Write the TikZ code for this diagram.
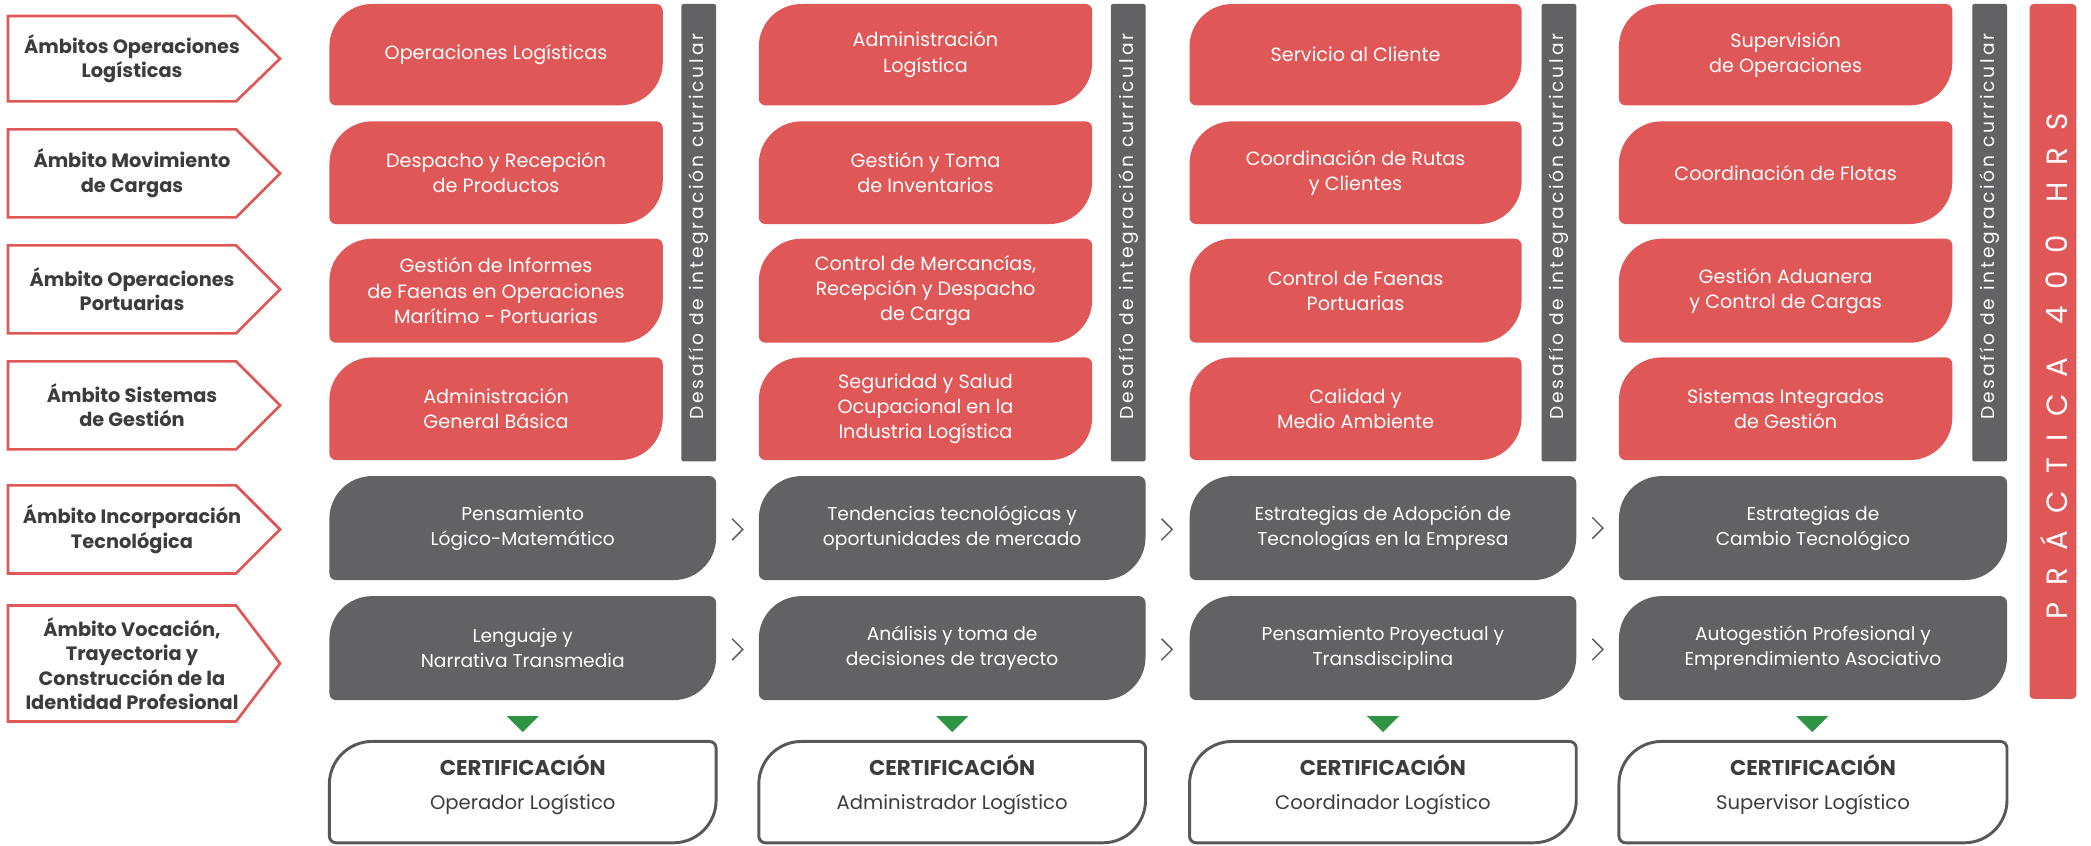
\documentclass[tikz,border=0pt]{standalone}
\usepackage{fontspec}
\setmainfont{Poppins}
\newfontfamily\desfont[LetterSpace=15]{Poppins}
\newfontfamily\pracfont[LetterSpace=58]{Poppins}
\usetikzlibrary{calc}
\definecolor{rojo}{HTML}{E05757}
\definecolor{gris}{HTML}{626264}
\definecolor{verde}{HTML}{2E9545}
\definecolor{txtgris}{HTML}{3C3C3C}
\definecolor{borde}{HTML}{58585A}
\newcommand\cellbox[7]{%
  \path[#1] (#2,{(#3+#5)/2}) [rounded corners=32pt] -- (#2,#3) [rounded corners=5pt] -- (#4,#3) [rounded corners=32pt] -- (#4,#5) [rounded corners=5pt] -- (#2,#5) -- cycle;
  \node[#1 text] (#6) at ({(#2+#4)/2},{(#3+#5)/2}) {#7};
}
\newcommand\certbox[6]{%
  \path[certshape] (#1,{(#2+#3)/2}) [rounded corners=32pt] -- (#1,#2) [rounded corners=5pt] -- (#4,#2) [rounded corners=32pt] -- (#4,#3) [rounded corners=5pt] -- (#1,#3) -- cycle;
  \node[certtitle] (#5t) at ({(#1+#4)/2},574) {CERTIFICACIÓN};
  \node[certsub] (#5) at ({(#1+#4)/2},603) {#6};
}
\newcommand\lblbox[4]{%
  \path[lblshape] (6,#1) -- (177,#1) -- (210,{(#1+#2)/2}) -- (177,#2) -- (6,#2) -- cycle;
  \node[lbltext] (#3) at (99,{(#1+#2)/2}) {#4};
}
\newcommand\chev[2]{%
  \coordinate (#1) at #2;
  \draw[chevline] ([shift={(-4,-8)}]#1) -- ([shift={(4,0)}]#1) -- ([shift={(-4,8)}]#1);
}
\newcommand\tri[2]{%
  \coordinate (#1) at (#2,543);
  \fill[verde] ([shift={(-12,-6)}]#1) -- ([shift={(12,-6)}]#1) -- ([shift={(0,6)}]#1) -- cycle;
}
\begin{document}
\begin{tikzpicture}[x=1pt,y=-1pt,
  redshape/.style={fill=rojo},
  redshape text/.style={text=white, align=center, font=\fontsize{14.4}{19}\selectfont},
  grayshape/.style={fill=gris},
  grayshape text/.style={text=white, align=center, font=\fontsize{14}{19}\selectfont},
  certshape/.style={fill=white, draw=borde, line width=2.2pt},
  certtitle/.style={text=txtgris, font=\fontsize{16}{19}\selectfont\bfseries},
  certsub/.style={text=txtgris, font=\fontsize{14.7}{19}\selectfont},
  lblshape/.style={fill=white, draw=rojo, line width=2pt},
  lbltext/.style={text=txtgris, align=center, font=\fontsize{14.5}{18.3}\selectfont\bfseries},
  chevline/.style={draw=gris, line width=1.1pt},
  vbar/.style={fill=gris},
  vtext/.style={text=white, rotate=90, font=\desfont\fontsize{14}{18}\selectfont},
  practext/.style={text=white, rotate=90, font=\pracfont\fontsize{22}{26}\selectfont}
]
\useasboundingbox (0,0) rectangle (1568,634);

% left labels
\lblbox{12}{76}{L1}{Ámbitos Operaciones\\Logísticas}
\lblbox{97}{163}{L2}{Ámbito Movimiento\\de Cargas}
\lblbox{184}{250}{L3}{Ámbito Operaciones\\Portuarias}
\lblbox{271}{337}{L4}{Ámbito Sistemas\\de Gestión}
\lblbox{364}{430}{L5}{Ámbito Incorporación\\Tecnológica}
\lblbox{454}{541}{L6}{Ámbito Vocación,\\Trayectoria y\\Construcción de la\\Identidad Profesional}

% column 1
\cellbox{redshape}{247}{3}{497}{79}{a1}{Operaciones Logísticas}
\cellbox{redshape}{247}{91}{497}{168}{a2}{Despacho y Recepción\\de Productos}
\cellbox{redshape}{247}{179}{497}{257}{a3}{Gestión de Informes\\de Faenas en Operaciones\\Marítimo - Portuarias}
\cellbox{redshape}{247}{268}{497}{345}{a4}{Administración\\General Básica}
\cellbox{grayshape}{247}{357}{537}{435}{a5}{Pensamiento\\Lógico-Matemático}
\cellbox{grayshape}{247}{447}{537}{525}{a6}{Lenguaje y\\Narrativa Transmedia}
% column 2
\cellbox{redshape}{569}{3}{819}{79}{b1}{Administración\\Logística}
\cellbox{redshape}{569}{91}{819}{168}{b2}{Gestión y Toma\\de Inventarios}
\cellbox{redshape}{569}{179}{819}{257}{b3}{Control de Mercancías,\\Recepción y Despacho\\de Carga}
\cellbox{redshape}{569}{268}{819}{345}{b4}{Seguridad y Salud\\Ocupacional en la\\Industria Logística}
\cellbox{grayshape}{569}{357}{859}{435}{b5}{Tendencias tecnológicas y\\oportunidades de mercado}
\cellbox{grayshape}{569}{447}{859}{525}{b6}{Análisis y toma de\\decisiones de trayecto}
% column 3
\cellbox{redshape}{892}{3}{1141}{79}{c1}{Servicio al Cliente}
\cellbox{redshape}{892}{91}{1141}{168}{c2}{Coordinación de Rutas\\y Clientes}
\cellbox{redshape}{892}{179}{1141}{257}{c3}{Control de Faenas\\Portuarias}
\cellbox{redshape}{892}{268}{1141}{345}{c4}{Calidad y\\Medio Ambiente}
\cellbox{grayshape}{892}{357}{1182}{435}{c5}{Estrategias de Adopción de\\Tecnologías en la Empresa}
\cellbox{grayshape}{892}{447}{1182}{525}{c6}{Pensamiento Proyectual y\\Transdisciplina}
% column 4
\cellbox{redshape}{1214}{3}{1464}{79}{d1}{Supervisión\\de Operaciones}
\cellbox{redshape}{1214}{91}{1464}{168}{d2}{Coordinación de Flotas}
\cellbox{redshape}{1214}{179}{1464}{257}{d3}{Gestión Aduanera\\y Control de Cargas}
\cellbox{redshape}{1214}{268}{1464}{345}{d4}{Sistemas Integrados\\de Gestión}
\cellbox{grayshape}{1214}{357}{1505}{435}{d5}{Estrategias de\\Cambio Tecnológico}
\cellbox{grayshape}{1214}{447}{1505}{525}{d6}{Autogestión Profesional y\\Emprendimiento Asociativo}

% vertical bars
\foreach \xa/\n in {511/v1, 833/v2, 1156/v3, 1479/v4}{
  \fill[vbar, rounded corners=1.5pt] (\xa,3) rectangle (\xa+26,346);
  \node[vtext] (\n) at (\xa+13,170) {Desafío de integración curricular};
}
% practica bar
\fill[rojo, rounded corners=3pt] (1522,3) rectangle (1557,524);
\node[practext] (pr) at (1540,274.5) {PRÁCTICA\hspace{6pt} 400\hspace{6pt} HRS};

% chevrons
\chev{ch1}{(553,397)}
\chev{ch2}{(875,397)}
\chev{ch3}{(1198,396)}
\chev{ch4}{(553,487)}
\chev{ch5}{(875,487)}
\chev{ch6}{(1198,487)}

% triangles
\tri{t1}{392}
\tri{t2}{714}
\tri{t3}{1037}
\tri{t4}{1359}

% certification
\certbox{247}{556}{632}{537}{e1}{Operador Logístico}
\certbox{569}{556}{632}{859}{e2}{Administrador Logístico}
\certbox{892}{556}{632}{1182}{e3}{Coordinador Logístico}
\certbox{1214}{556}{632}{1505}{e4}{Supervisor Logístico}
\end{tikzpicture}
\end{document}
